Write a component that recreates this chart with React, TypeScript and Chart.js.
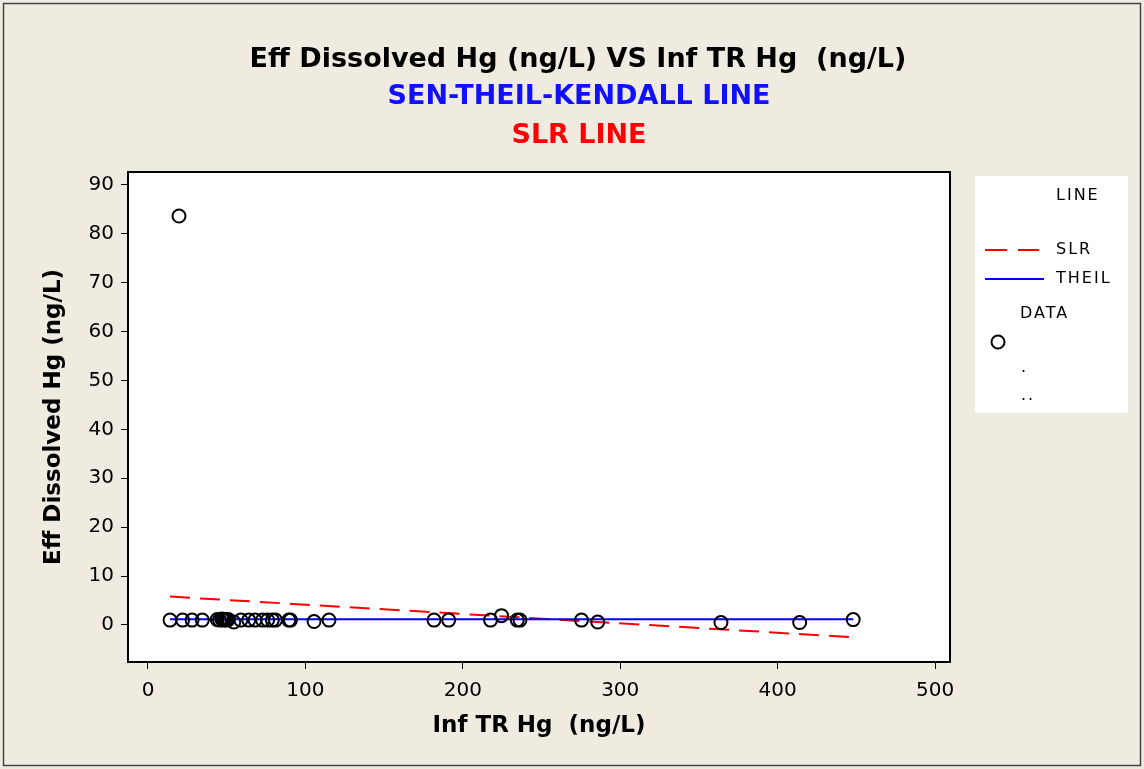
import React, { useEffect, useRef } from "react";
import { Chart, registerables } from "chart.js";
Chart.register(...registerables);

const TITLE_MAIN = "Eff Dissolved Hg (ng/L) VS Inf TR Hg  (ng/L)";
const TITLE_THEIL = "SEN-THEIL-KENDALL LINE";
const TITLE_SLR = "SLR LINE";
const X_LABEL = "Inf TR Hg  (ng/L)";
const Y_LABEL = "Eff Dissolved Hg (ng/L)";

const infTRHg = [14, 19.7, 22, 28, 34.5, 44, 45.5, 47, 48, 49, 50, 51, 54.5, 59, 64, 68, 72.8, 76, 79, 81, 89.5, 90.5, 105.5, 115, 181.7, 191, 217.6, 224.6, 234.6, 236.3, 275.4, 285.7, 364, 414, 448];
const effDissolvedHg = [1.0, 83.6, 1.0, 1.0, 1.0, 1.1, 1.0, 1.2, 1.0, 1.1, 1.0, 1.1, 0.6, 1.0, 1.0, 1.0, 1.0, 1.0, 1.0, 1.0, 1.0, 1.0, 0.7, 1.0, 1.0, 1.0, 1.0, 1.9, 1.0, 1.0, 1.0, 0.6, 0.5, 0.5, 1.1];

const slrX = [14, 448];
const slrY = [5.8, -2.5];
const theilX = [14, 448];
const theilY = [1.15, 1.15];

const xTicks = [0, 100, 200, 300, 400, 500];
const yTicks = [0, 10, 20, 30, 40, 50, 60, 70, 80, 90];

const legendLineLabel = "LINE";
const legendSLR = "SLR";
const legendTheil = "THEIL";
const legendData = "DATA";

const FONT = '"DejaVu Sans", "Liberation Sans", sans-serif';
const BG = "rgb(239,235,225)";

const decorPlugin = {
  id: "decor",
  beforeDraw(chart: any) {
    const { ctx, chartArea: a, width, height } = chart;
    ctx.save();
    ctx.fillStyle = BG;
    ctx.fillRect(0, 0, width, height);
    ctx.strokeStyle = "#444";
    ctx.lineWidth = 1.5;
    ctx.strokeRect(3.5, 3.5, width - 7, height - 7);
    ctx.fillStyle = "#ffffff";
    ctx.fillRect(a.left, a.top, a.right - a.left, a.bottom - a.top);
    // legend box
    ctx.fillRect(a.right + 25, a.top + 4, 153, 237);
    ctx.restore();
  },
  afterDraw(chart: any) {
    const { ctx, chartArea: a } = chart;
    ctx.save();
    ctx.strokeStyle = "#000";
    ctx.lineWidth = 2;
    ctx.strokeRect(a.left, a.top, a.right - a.left, a.bottom - a.top);

    // titles
    ctx.textAlign = "center";
    ctx.textBaseline = "middle";
    ctx.font = `bold 27px ${FONT}`;
    ctx.fillStyle = "#000";
    ctx.fillText(TITLE_MAIN, 578, 60);
    ctx.fillStyle = "#1010ff";
    ctx.fillText(TITLE_THEIL, 579, 97);
    ctx.fillStyle = "#ff0000";
    ctx.fillText(TITLE_SLR, 579, 136);

    // legend
    const lx = a.right + 25;
    const ly = a.top + 4;
    ctx.textAlign = "left";
    ctx.fillStyle = "#000";
    ctx.font = `16px ${FONT}`;
    (ctx as any).letterSpacing = "2px";
    ctx.fillText(legendLineLabel, lx + 81, ly + 20);
    ctx.fillText(legendSLR, lx + 81, ly + 74);
    ctx.fillText(legendTheil, lx + 81, ly + 103);
    ctx.fillText(legendData, lx + 45, ly + 138);
    ctx.fillText(".", lx + 46, ly + 192);
    ctx.fillText("..", lx + 46, ly + 220);
    (ctx as any).letterSpacing = "0px";

    ctx.lineWidth = 2;
    ctx.strokeStyle = "#ff0000";
    ctx.setLineDash([22, 11]);
    ctx.beginPath();
    ctx.moveTo(lx + 10, ly + 74);
    ctx.lineTo(lx + 64, ly + 74);
    ctx.stroke();
    ctx.setLineDash([]);
    ctx.strokeStyle = "#0000ff";
    ctx.beginPath();
    ctx.moveTo(lx + 10, ly + 103);
    ctx.lineTo(lx + 69, ly + 103);
    ctx.stroke();
    ctx.strokeStyle = "#000";
    ctx.beginPath();
    ctx.arc(lx + 23, ly + 166, 6.5, 0, Math.PI * 2);
    ctx.stroke();
    ctx.restore();
  },
};

export default function App() {
  const ref = useRef<HTMLCanvasElement>(null);
  useEffect(() => {
    if (!ref.current) return;
    const points = infTRHg.map((x, i) => ({ x, y: effDissolvedHg[i] }));
    const slr = slrX.map((x, i) => ({ x, y: slrY[i] }));
    const theil = theilX.map((x, i) => ({ x, y: theilY[i] }));
    const chart = new Chart(ref.current, {
      type: "scatter",
      data: {
        datasets: [
          {
            label: "DATA",
            data: points,
            pointStyle: "circle",
            pointRadius: 6.5,
            pointBorderWidth: 2,
            borderColor: "#000",
            backgroundColor: "rgba(0,0,0,0)",
            showLine: false,
          },
          {
            label: "THEIL",
            data: theil,
            showLine: true,
            borderColor: "#0000ff",
            borderWidth: 2,
            pointRadius: 0,
          },
          {
            label: "SLR",
            data: slr,
            showLine: true,
            borderColor: "#ff0000",
            borderWidth: 2,
            borderDash: [20, 10],
            pointRadius: 0,
          },
        ],
      },
      options: {
        responsive: false,
        animation: false,
        layout: { padding: { left: 40, right: 194, top: 172, bottom: 27 } },
        plugins: { legend: { display: false }, tooltip: { enabled: false }, title: { display: false } },
        scales: {
          x: {
            type: "linear",
            min: -12.7,
            max: 509.5,
            afterBuildTicks: (s: any) => {
              s.ticks = xTicks.map((v) => ({ value: v }));
            },
            afterFit: (s: any) => {
              s.height = 80;
            },
            grid: { drawOnChartArea: false, drawTicks: true, tickLength: 7, color: "#000", tickWidth: 1 },
            border: { display: false },
            ticks: { color: "#000", font: { family: FONT, size: 20 }, padding: 10, maxRotation: 0 },
            title: {
              display: true,
              text: X_LABEL,
              color: "#000",
              font: { family: FONT, size: 23, weight: "bold" },
              padding: { top: 0, bottom: 2 },
            },
          },
          y: {
            type: "linear",
            min: -7.57,
            max: 92.6,
            afterBuildTicks: (s: any) => {
              s.ticks = yTicks.map((v) => ({ value: v }));
            },
            afterFit: (s: any) => {
              s.width = 88;
            },
            grid: { drawOnChartArea: false, drawTicks: true, tickLength: 7, color: "#000", tickWidth: 1 },
            border: { display: false },
            ticks: { color: "#000", font: { family: FONT, size: 20 }, padding: 7 },
            title: {
              display: true,
              text: Y_LABEL,
              color: "#000",
              font: { family: FONT, size: 23, weight: "bold" },
              padding: { top: 0, bottom: 0 },
            },
          },
        },
      },
      plugins: [decorPlugin],
    });
    return () => chart.destroy();
  }, []);
  return (
    <div style={{ position: "absolute", left: 0, top: 0, width: 1144, height: 769 }}>
      <canvas ref={ref} width={1144} height={769} style={{ display: "block" }} />
    </div>
  );
}
